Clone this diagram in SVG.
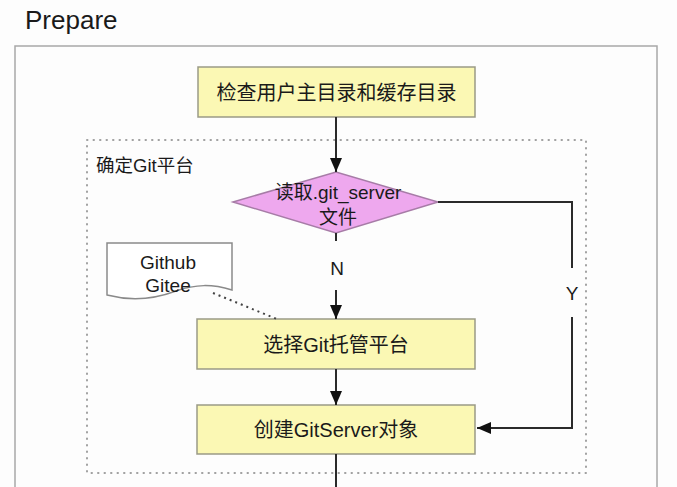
<svg xmlns="http://www.w3.org/2000/svg" width="677" height="487" viewBox="0 0 677 487">
<defs>
<style>
text{font-family:"Liberation Sans","Noto Sans CJK SC",sans-serif;fill:#1a1a1a}
.box{fill:#fbf8b4;stroke:#9a9a86;stroke-width:1.5}
.lbl{font-size:19px;text-anchor:middle;dominant-baseline:central}
.big{font-size:20px}
.edge{fill:none;stroke:#2a2a2a;stroke-width:2}
</style>
<marker id="ah" markerUnits="userSpaceOnUse" markerWidth="14" markerHeight="12" refX="14" refY="6" orient="auto">
<path d="M0,0 L14,6 L0,12 z" fill="#111"/>
</marker>
</defs>
<rect width="677" height="487" fill="#fdfdfd"/>
<text x="25" y="29" style="font-size:26px">Prepare</text>
<rect id="outer" x="15" y="46" width="642" height="460" fill="none" stroke="#a8a8a8" stroke-width="1.5"/>
<g id="group-git">
<rect x="87" y="140" width="499" height="333" fill="none" stroke="#a0a0a0" stroke-width="2" stroke-dasharray="0.5 6" stroke-linecap="round"/>
<text x="96" y="165" style="font-size:18.5px;dominant-baseline:central">确定Git平台</text>
</g>
<g id="node-check">
<rect class="box" x="198" y="67" width="277" height="50"/>
<text class="lbl big" x="336.5" y="93">检查用户主目录和缓存目录</text>
</g>
<g id="node-read">
<polygon points="233,202 336,172 438,202 336,233" fill="#eea8ee" stroke="#a77ca7" stroke-width="1.5"/>
<text class="lbl" x="338" y="192">读取.git_server</text>
<text class="lbl" x="338" y="217">文件</text>
</g>
<g id="node-doc">
<path d="M107,243 L232,243 L232,290 C212,284 196,284 176,291 C152,300 130,301 107,295 Z" fill="#fff" stroke="#8a8a8a" stroke-width="1.5"/>
<text class="lbl" x="168" y="262">Github</text>
<text class="lbl" x="168" y="285">Gitee</text>
</g>
<g id="node-select">
<rect class="box" x="197" y="319" width="278" height="50"/>
<text class="lbl big" x="336" y="345">选择Git托管平台</text>
</g>
<g id="node-create">
<rect class="box" x="197" y="405" width="278" height="49"/>
<text class="lbl big" x="336" y="430">创建GitServer对象</text>
</g>
<g id="connectors">
<path class="edge" d="M336,117 V172" marker-end="url(#ah)"/>
<path class="edge" d="M336,233 V241"/>
<text class="lbl" x="337" y="268">N</text>
<path class="edge" d="M336,290 V319" marker-end="url(#ah)"/>
<path class="edge" d="M336,369 V405" marker-end="url(#ah)"/>
<path class="edge" d="M438,202 H572 V268"/>
<text class="lbl" x="572" y="293">Y</text>
<path class="edge" d="M572,317 V428 H477" marker-end="url(#ah)"/>
<path class="edge" d="M336,454 V487"/>
<path d="M213,293 L277,319" fill="none" stroke="#444" stroke-width="2" stroke-dasharray="2 4"/>
</g>
</svg>
